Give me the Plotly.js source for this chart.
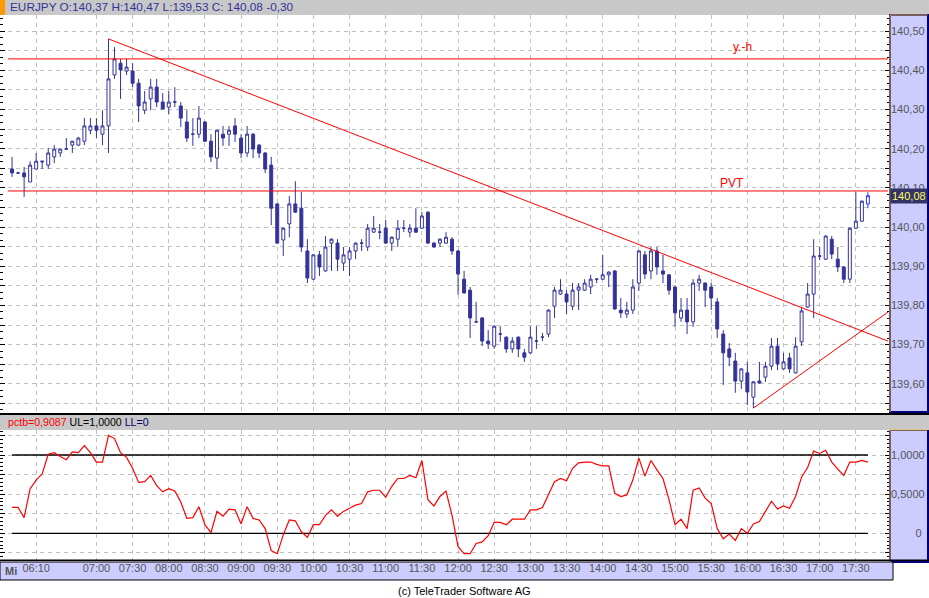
<!DOCTYPE html>
<html>
<head>
<meta charset="utf-8">
<script src="https://cdn.plot.ly/plotly-3.0.1.min.js"></script>
<style>
  html, body { margin: 0; padding: 0; background: #fff; }
  #graph { width: 929px; height: 598px; }
</style>
</head>
<body>
<div id="graph"></div>
<script>
// EURJPY 5 minute candles, wednesday 05:50 - 17:40
var day = '2014-01-15 ';

var open = [
  140.148,140.138,140.138,140.115,140.148,140.166,140.158,140.179,140.189,140.199,
  140.209,140.209,140.219,140.247,140.258,140.237,140.258,140.388,140.418,140.398,
  140.398,140.367,140.298,140.327,140.357,140.319,140.306,140.319,140.309,140.268,
  140.237,140.237,140.268,140.219,140.176,140.237,140.237,140.258,140.227,140.189,
  140.237,140.209,140.189,140.158,140.059,139.967,140.008,140.059,140.048,139.939,
  139.867,139.929,139.888,139.959,139.959,139.908,139.918,139.939,139.959,139.949,
  139.987,139.987,139.997,139.959,139.969,139.997,139.987,139.997,139.997,140.038,
  139.959,139.959,139.959,139.969,139.939,139.867,139.839,139.758,139.768,139.709,
  139.696,139.727,139.719,139.689,139.719,139.679,139.679,139.709,139.719,139.727,
  139.798,139.829,139.829,139.798,139.839,139.839,139.847,139.867,139.867,139.878,
  139.888,139.788,139.778,139.788,139.857,139.929,139.888,139.939,139.888,139.878,
  139.847,139.768,139.788,139.758,139.857,139.857,139.847,139.809,139.727,139.689,
  139.658,139.607,139.628,139.566,139.607,139.617,139.645,139.696,139.638,139.666,
  139.628,139.707,139.796,139.829,139.926,139.918,139.969,139.918,139.898,139.867,
  139.997,140.015,140.059
];
var high = [
  140.179,140.141,140.153,140.168,140.189,140.168,140.202,140.209,140.199,140.227,
  140.219,140.230,140.278,140.278,140.278,140.298,140.480,140.459,140.429,140.429,
  140.418,140.378,140.347,140.378,140.378,140.342,140.347,140.357,140.319,140.298,
  140.278,140.309,140.270,140.237,140.247,140.258,140.258,140.278,140.237,140.258,
  140.240,140.212,140.191,140.179,140.061,139.999,140.079,140.117,140.089,139.969,
  139.931,139.939,139.977,139.971,139.969,139.949,139.949,139.961,139.969,140.008,
  140.028,140.008,140.018,139.976,140.018,140.018,140.008,140.048,140.038,140.040,
  139.961,139.971,139.987,139.974,139.941,139.888,139.847,139.809,139.770,139.737,
  139.749,139.747,139.721,139.719,139.721,139.689,139.747,139.747,139.730,139.790,
  139.847,139.867,139.839,139.857,139.857,139.867,139.878,139.869,139.929,139.887,
  139.890,139.819,139.809,139.867,139.941,139.939,139.949,139.949,139.929,139.880,
  139.849,139.819,139.819,139.867,139.878,139.859,139.857,139.819,139.737,139.704,
  139.679,139.640,139.656,139.607,139.656,139.656,139.717,139.717,139.679,139.679,
  139.719,139.796,139.857,139.969,139.949,139.979,139.977,139.949,139.900,139.999,
  140.089,140.068,140.089
];
var low = [
  140.128,140.136,140.077,140.115,140.148,140.148,140.148,140.163,140.179,140.197,
  140.189,140.207,140.209,140.237,140.227,140.209,140.189,140.378,140.327,140.388,
  140.357,140.268,140.288,140.298,140.306,140.301,140.288,140.306,140.255,140.217,
  140.207,140.227,140.217,140.166,140.148,140.207,140.207,140.217,140.176,140.179,
  140.176,140.176,140.138,140.005,139.957,139.926,139.974,140.036,139.936,139.857,
  139.865,139.875,139.886,139.888,139.888,139.888,139.875,139.918,139.939,139.939,
  139.985,139.969,139.957,139.939,139.949,139.987,139.974,139.985,139.995,139.957,
  139.947,139.949,139.957,139.929,139.827,139.830,139.717,139.756,139.696,139.689,
  139.689,139.707,139.679,139.679,139.668,139.656,139.677,139.689,139.709,139.719,
  139.768,139.827,139.778,139.788,139.788,139.837,139.829,139.857,139.865,139.847,
  139.789,139.768,139.768,139.778,139.837,139.867,139.867,139.878,139.857,139.827,
  139.745,139.758,139.727,139.745,139.837,139.796,139.788,139.717,139.597,139.645,
  139.577,139.587,139.546,139.538,139.600,139.605,139.635,139.635,139.636,139.628,
  139.626,139.696,139.794,139.768,139.916,139.916,139.918,139.885,139.857,139.857,
  139.995,140.013,140.048
];
var close = [
  140.138,140.138,140.128,140.158,140.168,140.168,140.189,140.199,140.199,140.199,
  140.219,140.227,140.258,140.258,140.247,140.258,140.378,140.429,140.401,140.408,
  140.367,140.309,140.319,140.357,140.319,140.301,140.319,140.319,140.278,140.227,
  140.237,140.278,140.219,140.179,140.247,140.227,140.247,140.237,140.189,140.237,
  140.199,140.189,140.148,140.048,139.959,139.997,140.059,140.038,139.949,139.870,
  139.929,139.898,139.949,139.969,139.918,139.929,139.939,139.959,139.959,139.997,
  139.997,139.987,139.959,139.974,139.997,139.997,139.997,139.987,140.028,139.959,
  139.949,139.969,139.974,139.939,139.880,139.832,139.768,139.758,139.709,139.702,
  139.747,139.727,139.689,139.709,139.689,139.668,139.719,139.709,139.719,139.788,
  139.839,139.839,139.809,139.839,139.847,139.857,139.867,139.867,139.878,139.885,
  139.791,139.781,139.788,139.847,139.939,139.880,139.939,139.898,139.880,139.839,
  139.781,139.788,139.758,139.857,139.867,139.839,139.819,139.740,139.679,139.668,
  139.607,139.638,139.579,139.605,139.602,139.645,139.696,139.651,139.656,139.638,
  139.696,139.786,139.829,139.926,139.926,139.977,139.931,139.898,139.867,139.997,
  140.015,140.066,140.080
];

// %b indicator
var pctb = [
  0.33,0.33,0.20,0.57,0.68,0.76,1.01,1.03,0.98,0.94,
  1.04,1.03,1.12,1.03,0.91,0.91,1.25,1.21,1.03,0.97,
  0.83,0.65,0.66,0.74,0.61,0.53,0.57,0.54,0.40,0.19,
  0.20,0.34,0.11,0.01,0.28,0.22,0.31,0.30,0.12,0.34,
  0.19,0.17,0.06,-0.22,-0.26,-0.02,0.17,0.16,0.02,-0.05,
  0.11,0.11,0.23,0.30,0.22,0.28,0.32,0.36,0.38,0.53,
  0.55,0.55,0.46,0.60,0.70,0.70,0.74,0.71,0.93,0.43,
  0.35,0.47,0.54,0.23,-0.17,-0.26,-0.26,-0.13,-0.11,-0.03,
  0.14,0.14,0.11,0.18,0.18,0.18,0.30,0.30,0.33,0.49,
  0.66,0.70,0.67,0.83,0.90,0.91,0.91,0.88,0.86,0.86,
  0.51,0.47,0.49,0.68,0.96,0.73,0.93,0.81,0.70,0.43,
  0.11,0.18,0.06,0.55,0.58,0.45,0.38,0.06,-0.07,-0.01,
  -0.09,0.06,0.00,0.12,0.15,0.28,0.41,0.31,0.35,0.32,
  0.47,0.72,0.84,1.05,1.02,1.06,0.91,0.82,0.74,0.91,
  0.91,0.93,0.91
];

// drawn lines
var levelX = [day + '05:46:40', day + '17:56:40'];
var yhLevel = 140.429;
var pvtLevel = 140.092;
var trendDownX = [day + '07:10', day + '17:56:40'];
var trendDownY = [140.480, 139.709];
var trendUpX = [day + '16:05', day + '17:56:40'];
var trendUpY = [139.538, 139.783];

var timeLabels = ['06:10','07:00','07:30','08:00','08:30','09:00','09:30','10:00','10:30',
  '11:00','11:30','12:00','12:30','13:00','13:30','14:00','14:30','15:00','15:30',
  '16:00','16:30','17:00','17:30'];

function pad(n) { return (n < 10 ? '0' : '') + n; }
var times = [];
for (var i = 0; i < open.length; i++) {
  var m = 5 * 60 + 50 + 5 * i;
  times.push(day + pad(Math.floor(m / 60)) + ':' + pad(m % 60));
}
var last = open.length - 1;

var navy = '#333399';
var font = 'Arial, "Liberation Sans", sans-serif';
var grid = '#c0c0c0';

var candles = {
  type: 'candlestick', x: times.slice(0, last),
  open: open.slice(0, last), high: high.slice(0, last),
  low: low.slice(0, last), close: close.slice(0, last),
  increasing: { line: { color: navy, width: 1 }, fillcolor: '#ffffff' },
  decreasing: { line: { color: navy, width: 1 }, fillcolor: navy },
  whiskerwidth: 0, showlegend: false, hoverinfo: 'skip'
};
var lastCandle = {
  type: 'candlestick', x: times.slice(last),
  open: open.slice(last), high: high.slice(last),
  low: low.slice(last), close: close.slice(last),
  increasing: { line: { color: '#3333ff', width: 1 }, fillcolor: '#ffffff' },
  decreasing: { line: { color: '#3333ff', width: 1 }, fillcolor: '#3333ff' },
  whiskerwidth: 0, showlegend: false, hoverinfo: 'skip'
};

function redLine(xs, ys) {
  return { type: 'scatter', mode: 'lines', x: xs, y: ys,
    line: { color: '#ff0000', width: 1 }, showlegend: false, hoverinfo: 'skip' };
}

var bandX = [times[0], times[last]];
var data = [
  redLine(levelX, [yhLevel, yhLevel]),
  redLine(levelX, [pvtLevel, pvtLevel]),
  redLine(trendDownX, trendDownY),
  redLine(trendUpX, trendUpY),
  candles, lastCandle,
  { type: 'scatter', mode: 'lines', x: bandX, y: [1, 1], yaxis: 'y2',
    line: { color: '#000000', width: 1.3 }, showlegend: false, hoverinfo: 'skip' },
  { type: 'scatter', mode: 'lines', x: bandX, y: [0, 0], yaxis: 'y2',
    line: { color: '#000000', width: 1.3 }, showlegend: false, hoverinfo: 'skip' },
  { type: 'scatter', mode: 'lines', x: times, y: pctb, yaxis: 'y2',
    line: { color: '#ff0000', width: 1.2 }, showlegend: false, hoverinfo: 'skip' }
];

// price axis ticks every 0,05, labels every 0,10
var priceVals = [], priceText = [];
for (var k = 0; k <= 19; k++) {
  var v = Math.round((139.55 + k * 0.05) * 100) / 100;
  priceVals.push(v);
  priceText.push(k % 2 === 1 ? v.toFixed(2).replace('.', ',') : '');
}

var nb = '\u00a0';
var layout = {
  width: 929, height: 598,
  margin: { l: 0, r: 39, t: 0, b: 0 },
  paper_bgcolor: '#ffffff', plot_bgcolor: '#ffffff',
  separators: ',.',
  font: { family: font, size: 11, color: '#555555' },
  showlegend: false,
  xaxis: {
    type: 'date', anchor: 'y2',
    range: [day + '05:40', day + '17:58:20'],
    rangeslider: { visible: false },
    tickmode: 'array',
    tickvals: timeLabels.map(function (t) { return day + t; }),
    ticktext: timeLabels,
    ticks: '', showline: false, zeroline: false,
    showgrid: true, gridcolor: grid, griddash: '4px,4px', gridwidth: 1,
    tickfont: { size: 11, color: '#555555' }
  },
  yaxis: {
    domain: [0.3110, 0.9749], range: [139.528, 140.541],
    side: 'right', anchor: 'x',
    tickmode: 'array', tickvals: priceVals, ticktext: priceText,
    ticks: 'inside', ticklen: 5, tickcolor: '#000000', tickwidth: 1,
    mirror: 'ticks', showline: false, zeroline: false,
    showgrid: true, gridcolor: grid, griddash: '4px,4px',
    minor: { tickmode: 'linear', tick0: 140.5, dtick: 0.1 / 6, ticks: 'inside',
      ticklen: 3, tickcolor: '#000000', showgrid: false },
    tickfont: { size: 11, color: '#555555' }
  },
  yaxis2: {
    domain: [0.0635, 0.2809], range: [-0.341, 1.319],
    side: 'right', anchor: 'x',
    tickmode: 'array',
    tickvals: [-0.25, 0, 0.25, 0.5, 0.75, 1, 1.25],
    ticktext: ['', nb + nb + nb + nb + nb + nb + nb + nb + '0', '', '0,5000', '', '1,0000', ''],
    ticks: 'inside', ticklen: 5, tickcolor: '#000000',
    mirror: 'ticks', showline: false, zeroline: false,
    showgrid: true, gridcolor: grid, griddash: '4px,4px',
    minor: { tickmode: 'linear', tick0: 0, dtick: 0.05, ticks: 'inside',
      ticklen: 3, tickcolor: '#000000', showgrid: false },
    tickfont: { size: 11, color: '#555555' }
  },
  shapes: [
    // header bars, axis panels
    { type: 'rect', xref: 'paper', yref: 'paper', x0: 0, x1: 1.0438, y0: 0.9749, y1: 1,
      fillcolor: '#c8c8c8', line: { width: 0 }, layer: 'below' },
    { type: 'rect', xref: 'paper', yref: 'paper', x0: 0, x1: 0.0056, y0: 0.9749, y1: 1,
      fillcolor: '#ff9900', line: { width: 0 }, layer: 'below' },
    { type: 'rect', xref: 'paper', yref: 'paper', x0: 1, x1: 1.0427, y0: 0.3110, y1: 0.9749,
      fillcolor: '#ccccff', line: { color: '#000080', width: 2 }, layer: 'below' },
    { type: 'rect', xref: 'paper', yref: 'paper', x0: 1, x1: 1.0427, y0: 0.0602, y1: 0.2809,
      fillcolor: '#ccccff', line: { color: '#000080', width: 2 }, layer: 'below' },
    { type: 'line', xref: 'paper', yref: 'paper', x0: 1, x1: 1, y0: 0.3110, y1: 0.9749,
      line: { color: '#f0c040', width: 1 } },
    { type: 'line', xref: 'paper', yref: 'paper', x0: 1, x1: 1.042, y0: 0.9749, y1: 0.9749,
      line: { color: '#f0c040', width: 1 } },
    { type: 'line', xref: 'paper', yref: 'paper', x0: 1, x1: 1, y0: 0.0602, y1: 0.2809,
      line: { color: '#f0c040', width: 1 } },
    { type: 'line', xref: 'paper', yref: 'paper', x0: 1, x1: 1.042, y0: 0.2809, y1: 0.2809,
      line: { color: '#f0c040', width: 1 } },
    { type: 'rect', xref: 'paper', yref: 'paper', x0: 0, x1: 1.0438, y0: 0.2809, y1: 0.3060,
      fillcolor: '#c8c8c8', line: { width: 0 }, layer: 'below' },
    { type: 'rect', xref: 'paper', yref: 'paper', x0: 0, x1: 1.0438, y0: 0.3060, y1: 0.3094,
      fillcolor: '#000000', line: { width: 0 } },
    { type: 'rect', xref: 'paper', yref: 'paper', x0: 0, x1: 1.0034, y0: 0.0301, y1: 0.0602,
      fillcolor: '#ccccff', line: { color: '#000000', width: 1 }, layer: 'below' },
    { type: 'line', xref: 'paper', yref: 'paper', x0: 0, x1: 1.0438, y0: 0.0630, y1: 0.0630,
      line: { color: '#000000', width: 1.5 } }
  ],
  annotations: [
    { xref: 'paper', yref: 'paper', x: 0.009, y: 0.9875, xanchor: 'left', yanchor: 'middle',
      text: 'EURJPY O:140,37 H:140,47 L:139,53 C: 140,08 -0,30', showarrow: false,
      font: { size: 11.8, color: navy } },
    { xref: 'paper', yref: 'paper', x: 0.007, y: 0.2935, xanchor: 'left', yanchor: 'middle',
      text: '<span style="color:#ff0000">pctb=0,9087</span> <span style="color:#000000">UL=1,0000</span> <span style="color:#000066">LL=0</span>',
      showarrow: false, font: { size: 10.6 } },
    { xref: 'paper', yref: 'y', x: 0.834, y: 140.459, xanchor: 'center', yanchor: 'middle',
      text: 'y.-h', showarrow: false, font: { size: 12, color: '#ff0000' } },
    { xref: 'paper', yref: 'y', x: 0.822, y: 140.112, xanchor: 'center', yanchor: 'middle',
      text: 'PVT', showarrow: false, font: { size: 12, color: '#ff0000' } },
    { xref: 'paper', yref: 'y', x: 1.0, y: close[last], xanchor: 'left', yanchor: 'middle',
      text: '140,08', showarrow: false, bgcolor: '#333366', borderpad: 1,
      font: { size: 11, color: '#ffff66' } },
    { xref: 'paper', yref: 'paper', x: 0.003, y: 0.0452, xanchor: 'left', yanchor: 'middle',
      text: '<b>Mi</b>', showarrow: false, font: { size: 11, color: '#555555' } },
    { xref: 'paper', yref: 'paper', x: 0.522, y: 0.0117, xanchor: 'center', yanchor: 'middle',
      text: '(c) TeleTrader Software AG', showarrow: false, font: { size: 11, color: '#000000' } }
  ]
};

Plotly.newPlot('graph', data, layout, { displayModeBar: false, staticPlot: true });
</script>
</body>
</html>
